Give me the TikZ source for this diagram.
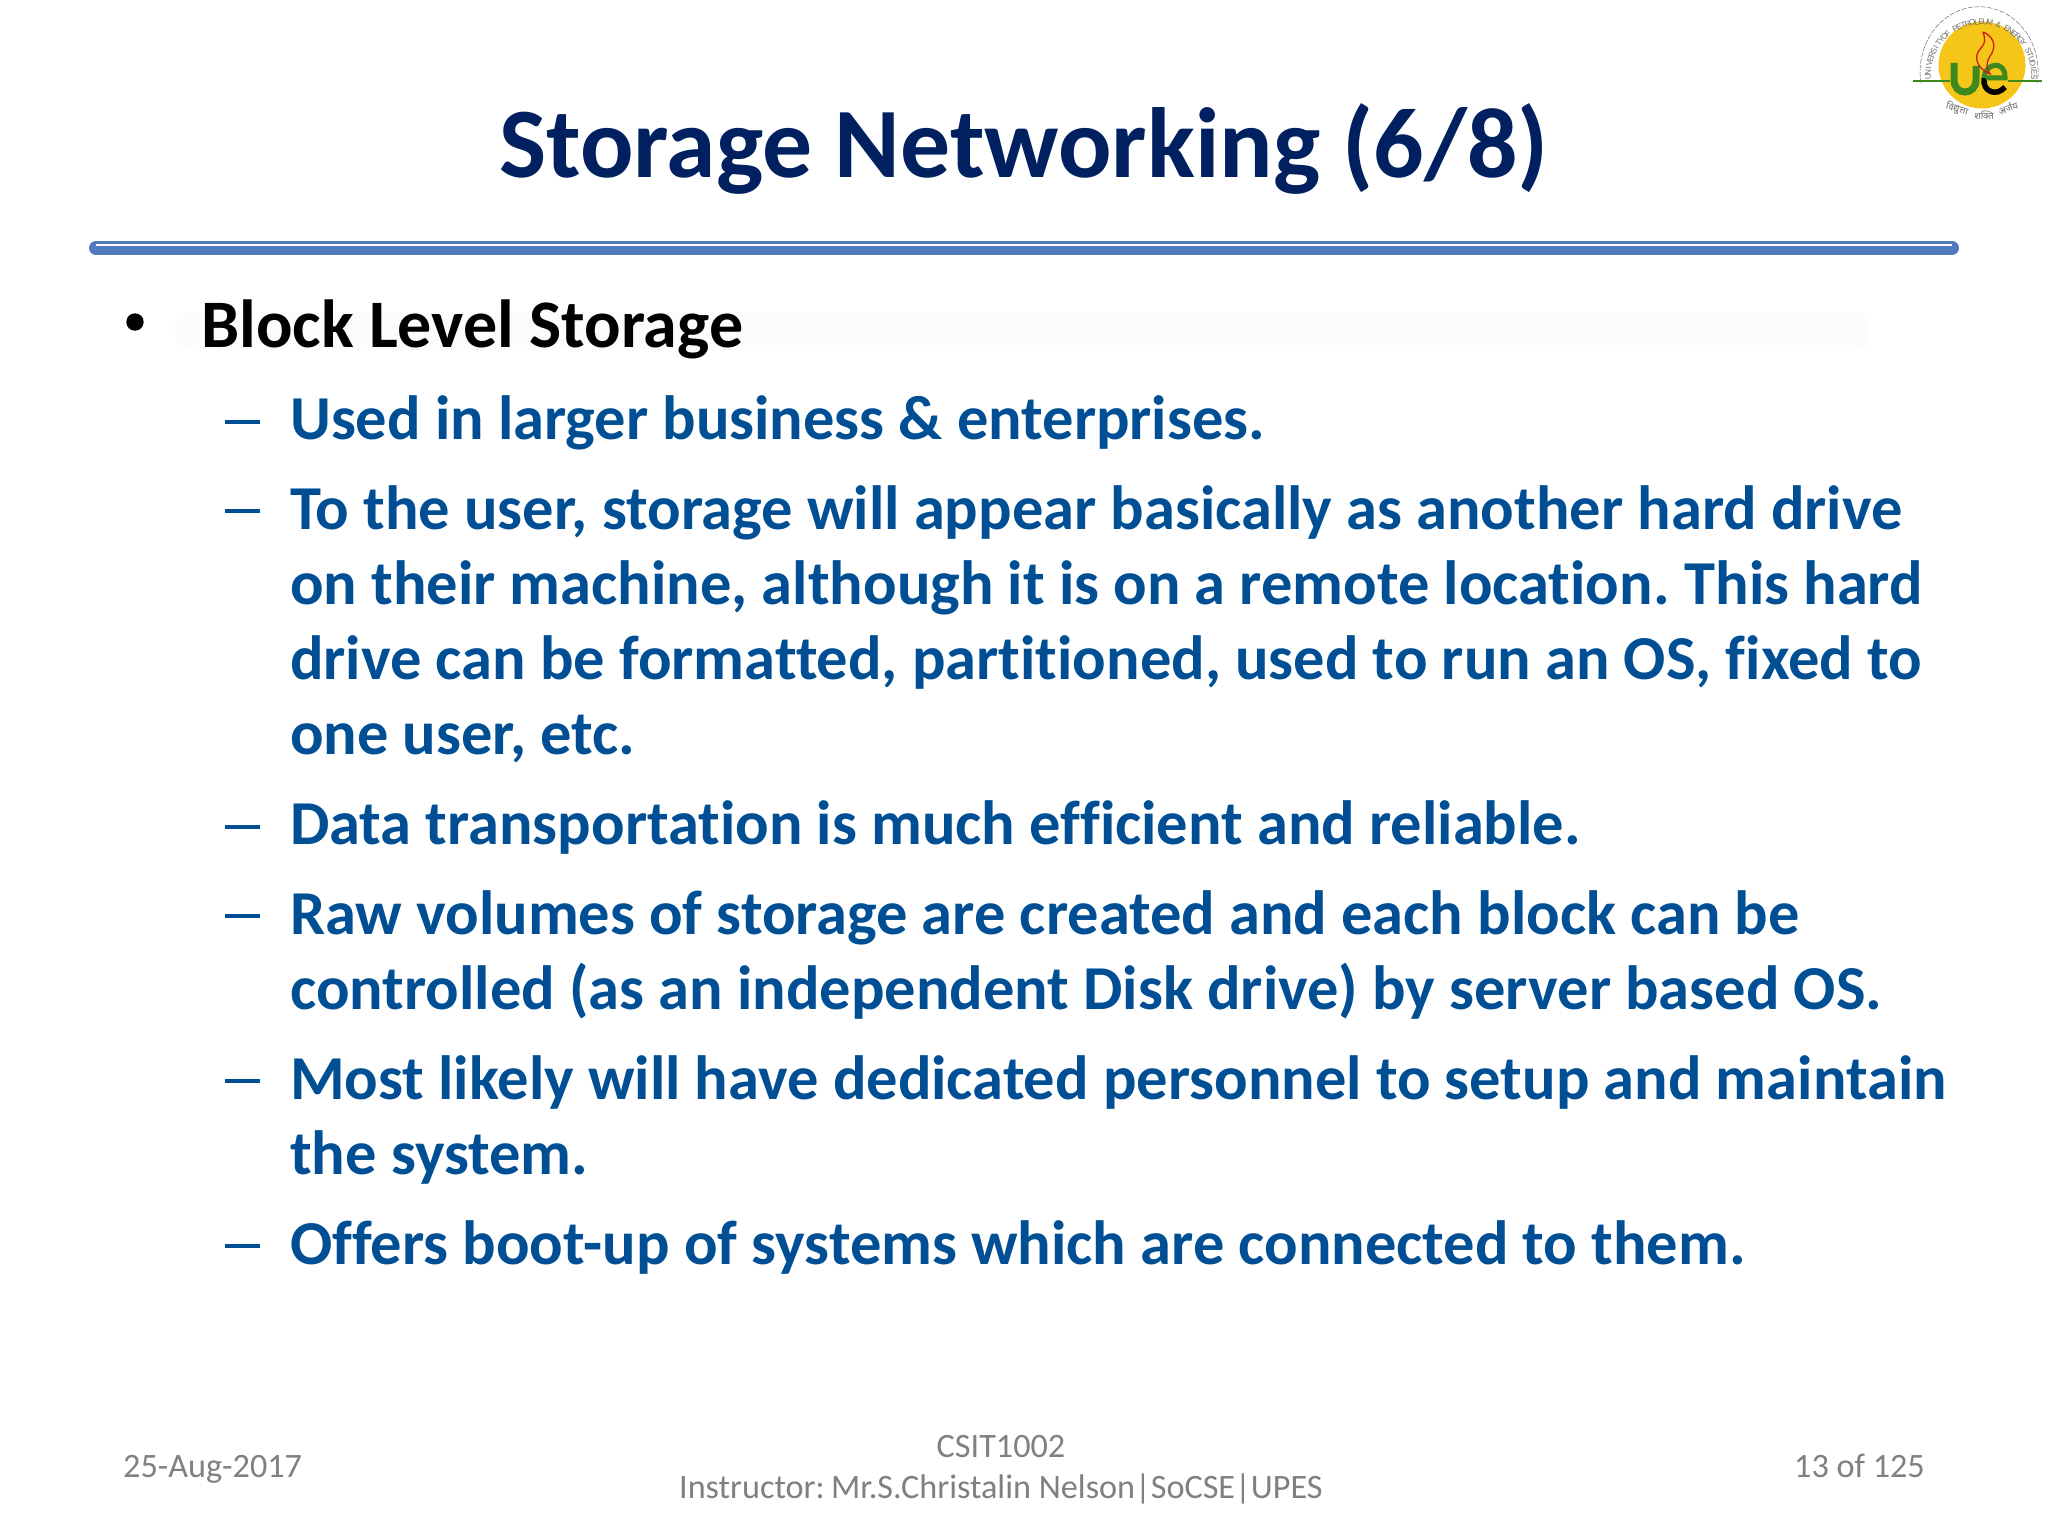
\documentclass[tikz,border=0pt]{standalone}
\usepackage{fontspec}
\setmainfont[Ligatures=NoCommon]{Carlito}
\newfontfamily\hindifont[Script=Devanagari]{Noto Sans}
\newfontfamily\logofont{Liberation Sans}
\definecolor{titleblue}{HTML}{002060}
\definecolor{bodyblue}{HTML}{004F94}
\definecolor{rulemain}{HTML}{4F7BBC}
\definecolor{footgray}{HTML}{808080}
\definecolor{logotext}{HTML}{6E6E6E}
\definecolor{logoyellow}{HTML}{F5C518}
\definecolor{logogreen}{HTML}{3C8A1E}
\definecolor{logored}{HTML}{C8201E}
\tikzset{
  x=1pt,y=-1pt,
  bodyline/.style={anchor=base west,inner sep=0pt,text=bodyblue,font=\fontsize{62.5}{62.5}\selectfont\bfseries},
  dashmark/.style={draw=bodyblue,line width=4pt},
  foot/.style={inner sep=0pt,text=footgray,font=\fontsize{34.2}{34.2}\selectfont},
  logoletter/.style={inner sep=0pt,text=logotext,font=\logofont\fontsize{8}{8}\selectfont},
  mottotext/.style={inner sep=0pt,text=logotext,font=\hindifont\fontsize{9.5}{9.5}\selectfont},
}
\begin{document}
\begin{tikzpicture}
\useasboundingbox (0,0) rectangle (2048,1536);
\fill[white] (0,0) rectangle (2048,1536);
% title
\node[anchor=base,inner sep=0pt,text=titleblue,font=\fontsize{99.7}{99.7}\selectfont\bfseries] (title) at (1024,177) {Storage Networking (6/8)};
% rule
\draw[rulemain,line width=14pt,line cap=round] (96,248) -- (1952,248);
\draw[white,line width=1.6pt] (96,245) -- (1952,245);
% heading
\fill[black!1,rounded corners=15pt] (175,312) rectangle (1870,350);
\fill[black] (135,322) circle (8.7);
\node[anchor=base west,inner sep=0pt,text=black,font=\fontsize{68}{68}\selectfont\bfseries] (head) at (201,347) {Block Level Storage};
% dashes and body
\foreach \yy in {422,511,827,916,1081,1246}{\draw[dashmark] (225,\yy) -- (260,\yy);}
\node[bodyline] (l1) at (290,439.5) {Used in larger business \& enterprises.};
\node[bodyline] (l2) at (290,529.5) {To the user, storage will appear basically as another hard drive};
\node[bodyline] (l3) at (290,604.5) {on their machine, although it is on a remote location.\kern-4pt{} This hard};
\node[bodyline] (l4) at (290,679.5) {drive can be formatted, partitioned, used to run an OS, fixed to};
\node[bodyline] (l5) at (290,754.5) {one user, etc.};
\node[bodyline] (l6) at (290,844.5) {Data transportation is much efficient and reliable.};
\node[bodyline] (l7) at (290,934.5) {Raw volumes of storage are created and each block can be};
\node[bodyline] (l8) at (290,1009.5) {controlled (as an independent Disk drive) by server based OS.};
\node[bodyline] (l9) at (290,1099.5) {Most likely will have dedicated personnel to setup and maintain};
\node[bodyline] (l10) at (290,1174.5) {the system.};
\node[bodyline] (l11) at (290,1264.5) {Offers boot-up of systems which are connected to them.};
% footer
\node[foot,anchor=base west] (date) at (123,1477) {25-Aug-2017};
\node[foot,anchor=base] (course) at (1001,1457) {CSIT1002};
\node[foot,anchor=base] (instr) at (1001,1498) {Instructor:\kern-4pt{} Mr.S.Christalin Nelson|SoCSE|UPES};
\node[foot,anchor=base east] (page) at (1925,1477) {13 of 125};
% logo
\fill[logoyellow] (1982,65) circle (43.5);
\draw[logogreen,line width=1.2pt] (1913,81) -- (1950,81);
\draw[logogreen,line width=1.2pt] (2008,81) -- (2042,81);
\draw[logogreen,line width=7pt] (1954,63) -- (1954,80) .. controls (1954,96) and (1976,96) .. (1976,80) -- (1976,66);
\draw[black,line width=5.5pt] (2005,87) .. controls (1997,97) and (1982,92) .. (1984,78);
\draw[logogreen,line width=5pt] (1984,78) .. controls (1985,62) and (2006,60) .. (2005,78) -- (1986,78);
\draw[logored,line width=1.3pt] (1983,32) .. controls (1997,38) and (1995,50) .. (1990,56) .. controls (1986,62) and (1986,68) .. (1990,74) .. controls (1976,68) and (1973,56) .. (1981,48) .. controls (1986,43) and (1985,38) .. (1983,32);
\foreach \ch [count=\i from 0] in {U,N,I,V,E,R,S,I,T,Y,O,F,{ },P,E,T,R,O,L,E,U,M,{ },\&,{ },E,N,E,R,G,Y,{ },S,T,U,D,I,E,S}{
  \pgfmathsetmacro{\ang}{182-\i*184/38}
  \node[logoletter,rotate=\ang-90] (ch\i) at ({1981+53*cos(\ang)},{75-53*sin(\ang)}) {\ch};
}
\draw[logotext,line width=0.5pt,dash pattern=on 5pt off 1.5pt] (1921,83) arc[start angle=170,end angle=370,x radius=59,y radius=65];
\node[mottotext,rotate=-18] (m1) at (1957,109) {विद्युत्ता};
\node[mottotext] (m2) at (1984,115) {शक्ति};
\node[mottotext,rotate=20] (m3) at (2008,108) {अर्जय};
\end{tikzpicture}
\end{document}
